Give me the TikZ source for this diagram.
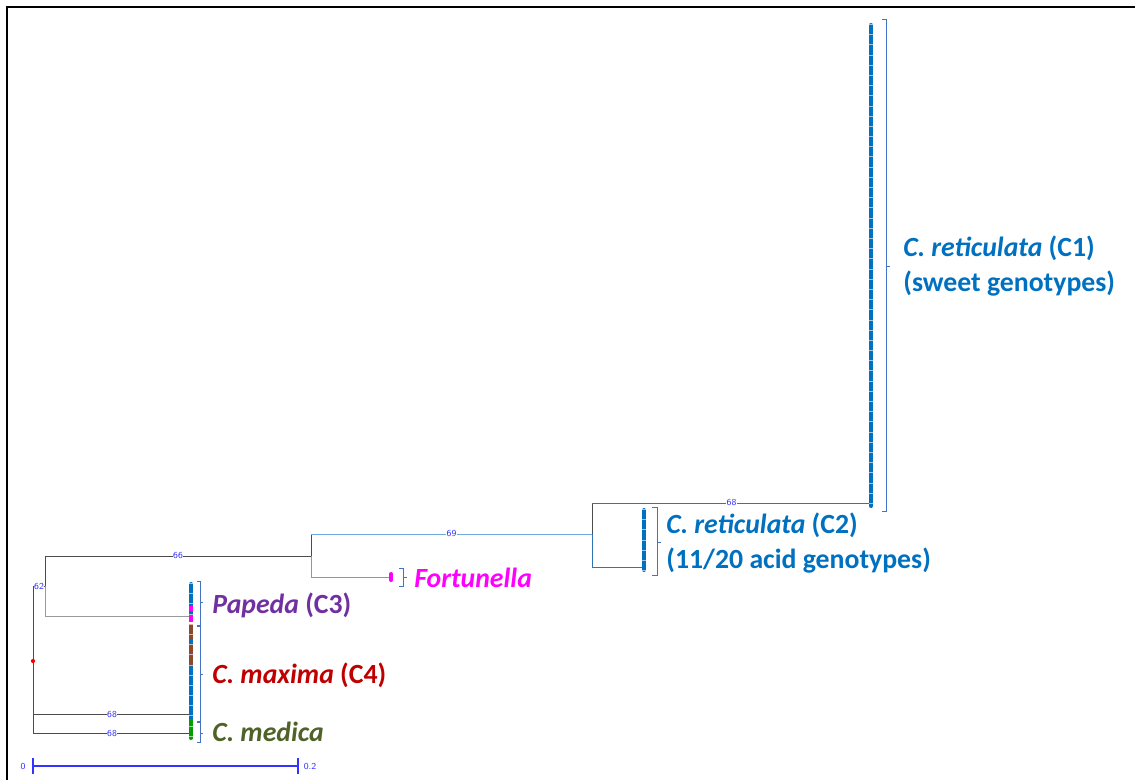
\documentclass[tikz,border=0pt]{standalone}
\usepackage{fontspec}
\setmainfont{Carlito}
\definecolor{cblue}{HTML}{0070C0}
\definecolor{mblue}{HTML}{2E75B6}
\definecolor{lblue}{HTML}{6FA8DC}
\definecolor{brak}{HTML}{4472C4}
\definecolor{bootblue}{HTML}{3333FF}
\definecolor{fpink}{HTML}{FF00FF}
\definecolor{ppurple}{HTML}{7030A0}
\definecolor{mred}{HTML}{C00000}
\definecolor{mgreen}{HTML}{4F6228}
\definecolor{tbrown}{HTML}{8B4A2B}
\definecolor{tgreen}{HTML}{00A000}
\begin{document}
\begin{tikzpicture}[x=.02cm, y=-.02cm, every node/.style={inner sep=0pt},
    tree/.style={draw=black!70, line width=.55pt},
    boot/.style={fill=white, inner sep=.3pt, text=bootblue, font=\sffamily\fontsize{5.2}{6}\selectfont},
    tipbar/.style={line width=2.3pt},
    tipgap/.style={draw=white, opacity=.6, line width=2.6pt, dash pattern=on .3pt off 5.5pt},
    brak/.style={draw=brak, line width=.5pt},
    lab/.style={anchor=west, align=left, font=\bfseries\fontsize{15.8}{19.8}\selectfont}]
    \useasboundingbox (0,0) rectangle (1135,780);
    \draw[line width=1.7pt] (7,780) -- (7,7) -- (1135,7);
    % inner nodes and tips
    \coordinate (r) at (33,661);
    \coordinate (a) at (45,586);
    \coordinate (b) at (311,556);
    \coordinate (c) at (592,534);
    \coordinate (pap) at (191,616);
    \coordinate (max) at (191,714);
    \coordinate (med) at (191,733);
    \coordinate (fort) at (391,577);
    \coordinate (c1) at (871,503);
    \coordinate (c2) at (644,567);
    % branches
    \draw[tree] (r) |- (a) node[boot, pos=.75] (b62) {62};
    \draw[tree] (r) |- (max) node[boot, pos=.75] (b68a) {68};
    \draw[tree] (r) |- (med) node[boot, pos=.75] (b68b) {68};
    \draw[tree, draw=black!40] (a) |- (pap);
    \draw[tree] (a) |- (b) node[boot, pos=.75] (b66) {66};
    \draw[tree] (b) -- (b |- c);
    \draw[tree, draw=lblue] (b |- c) -- (c) node[boot, midway] (b69) {69};
    \draw[tree, draw=fpink!70] (b) |- (fort);
    \draw[tree] (c) -- (c |- c1);
    \draw[tree, draw=mblue] (c |- c1) -- (c1) node[boot, midway] (b68c) {68};
    \draw[tree, draw=mblue] (c) |- (c2);
    \fill[red] (r) circle (1.2pt);
    % tip bars
    \draw[tipbar, line cap=round, cblue] (871,25) -- (871,506);
    \draw[tipbar, line cap=round, cblue] (644,510) -- (644,570);
    \draw[tipbar, line cap=round, fpink] (391,574) -- (391,580);
    \draw[tipbar, line cap=round, cblue] (191,584) -- (191,600);
    \draw[tipbar, cblue] (191,596) -- (191,606);
    \draw[tipbar, fpink] (191,606) -- (191,611);
    \draw[tipbar, cblue] (191,611) -- (191,615);
    \draw[tipbar, fpink] (191,615) -- (191,622);
    \draw[tipbar, tbrown] (191,624) -- (191,639);
    \draw[tipbar, cblue] (191,639) -- (191,643);
    \draw[tipbar, tbrown] (191,643) -- (191,666);
    \draw[tipbar, cblue] (191,666) -- (191,719);
    \draw[tipbar, tgreen] (191,719) -- (191,732);
    \draw[tipbar, line cap=round, tgreen] (191,728) -- (191,738);
    \draw[tipgap] (871,24) -- (871,507);
    \draw[tipgap] (644,509) -- (644,571);
    \draw[tipgap] (191,583) -- (191,739);
    % clade brackets
    \draw[brak] (882,19) -| (886,511) -- (882,511) (886,266) -- (890,266);
    \draw[brak] (652,507) -| (657,575) -- (652,575) (657,542) -- (661,542);
    \draw[brak] (399,568) -| (403,586) -- (399,586) (403,577) -- (407,577);
    \draw[brak] (197,581) -| (200,625) -- (197,625) (200,602) -- (203,602);
    \draw[brak] (197,626) -| (200,721) -- (197,721) (200,674) -- (203,674);
    \draw[brak] (197,722) -| (200,742) -- (197,742) (200,733) -- (203,733);
    \node[lab, text=cblue] (c1lab) at (903,266) {\textit{C. reticulata} (C1)\\(sweet genotypes)};
    \node[lab, text=cblue] (c2lab) at (666,543) {\textit{C. reticulata} (C2)\\(11/20 acid genotypes)};
    \node[lab, text=fpink] (fortlab) at (414,578) {\textit{Fortunella}};
    \node[lab, text=ppurple] (paplab) at (212,605) {\textit{Papeda} (C3)};
    \node[lab, text=mred] (maxlab) at (212,675) {\textit{C. maxima} (C4)};
    \node[lab, text=mgreen] (medlab) at (212,732) {\textit{C. medica}};
    % scale bar
    \coordinate (s0) at (33,766);
    \coordinate (s1) at (298,766);
    \draw[draw=bootblue, line width=.6pt] (s0) -- (s1) (33,758) -- (33,774) (298,758) -- (298,774);
    \node[boot] (s0lab) at (23,766) {0};
    \node[boot] (s1lab) at (310,766) {0.2};
\end{tikzpicture}
\end{document}
